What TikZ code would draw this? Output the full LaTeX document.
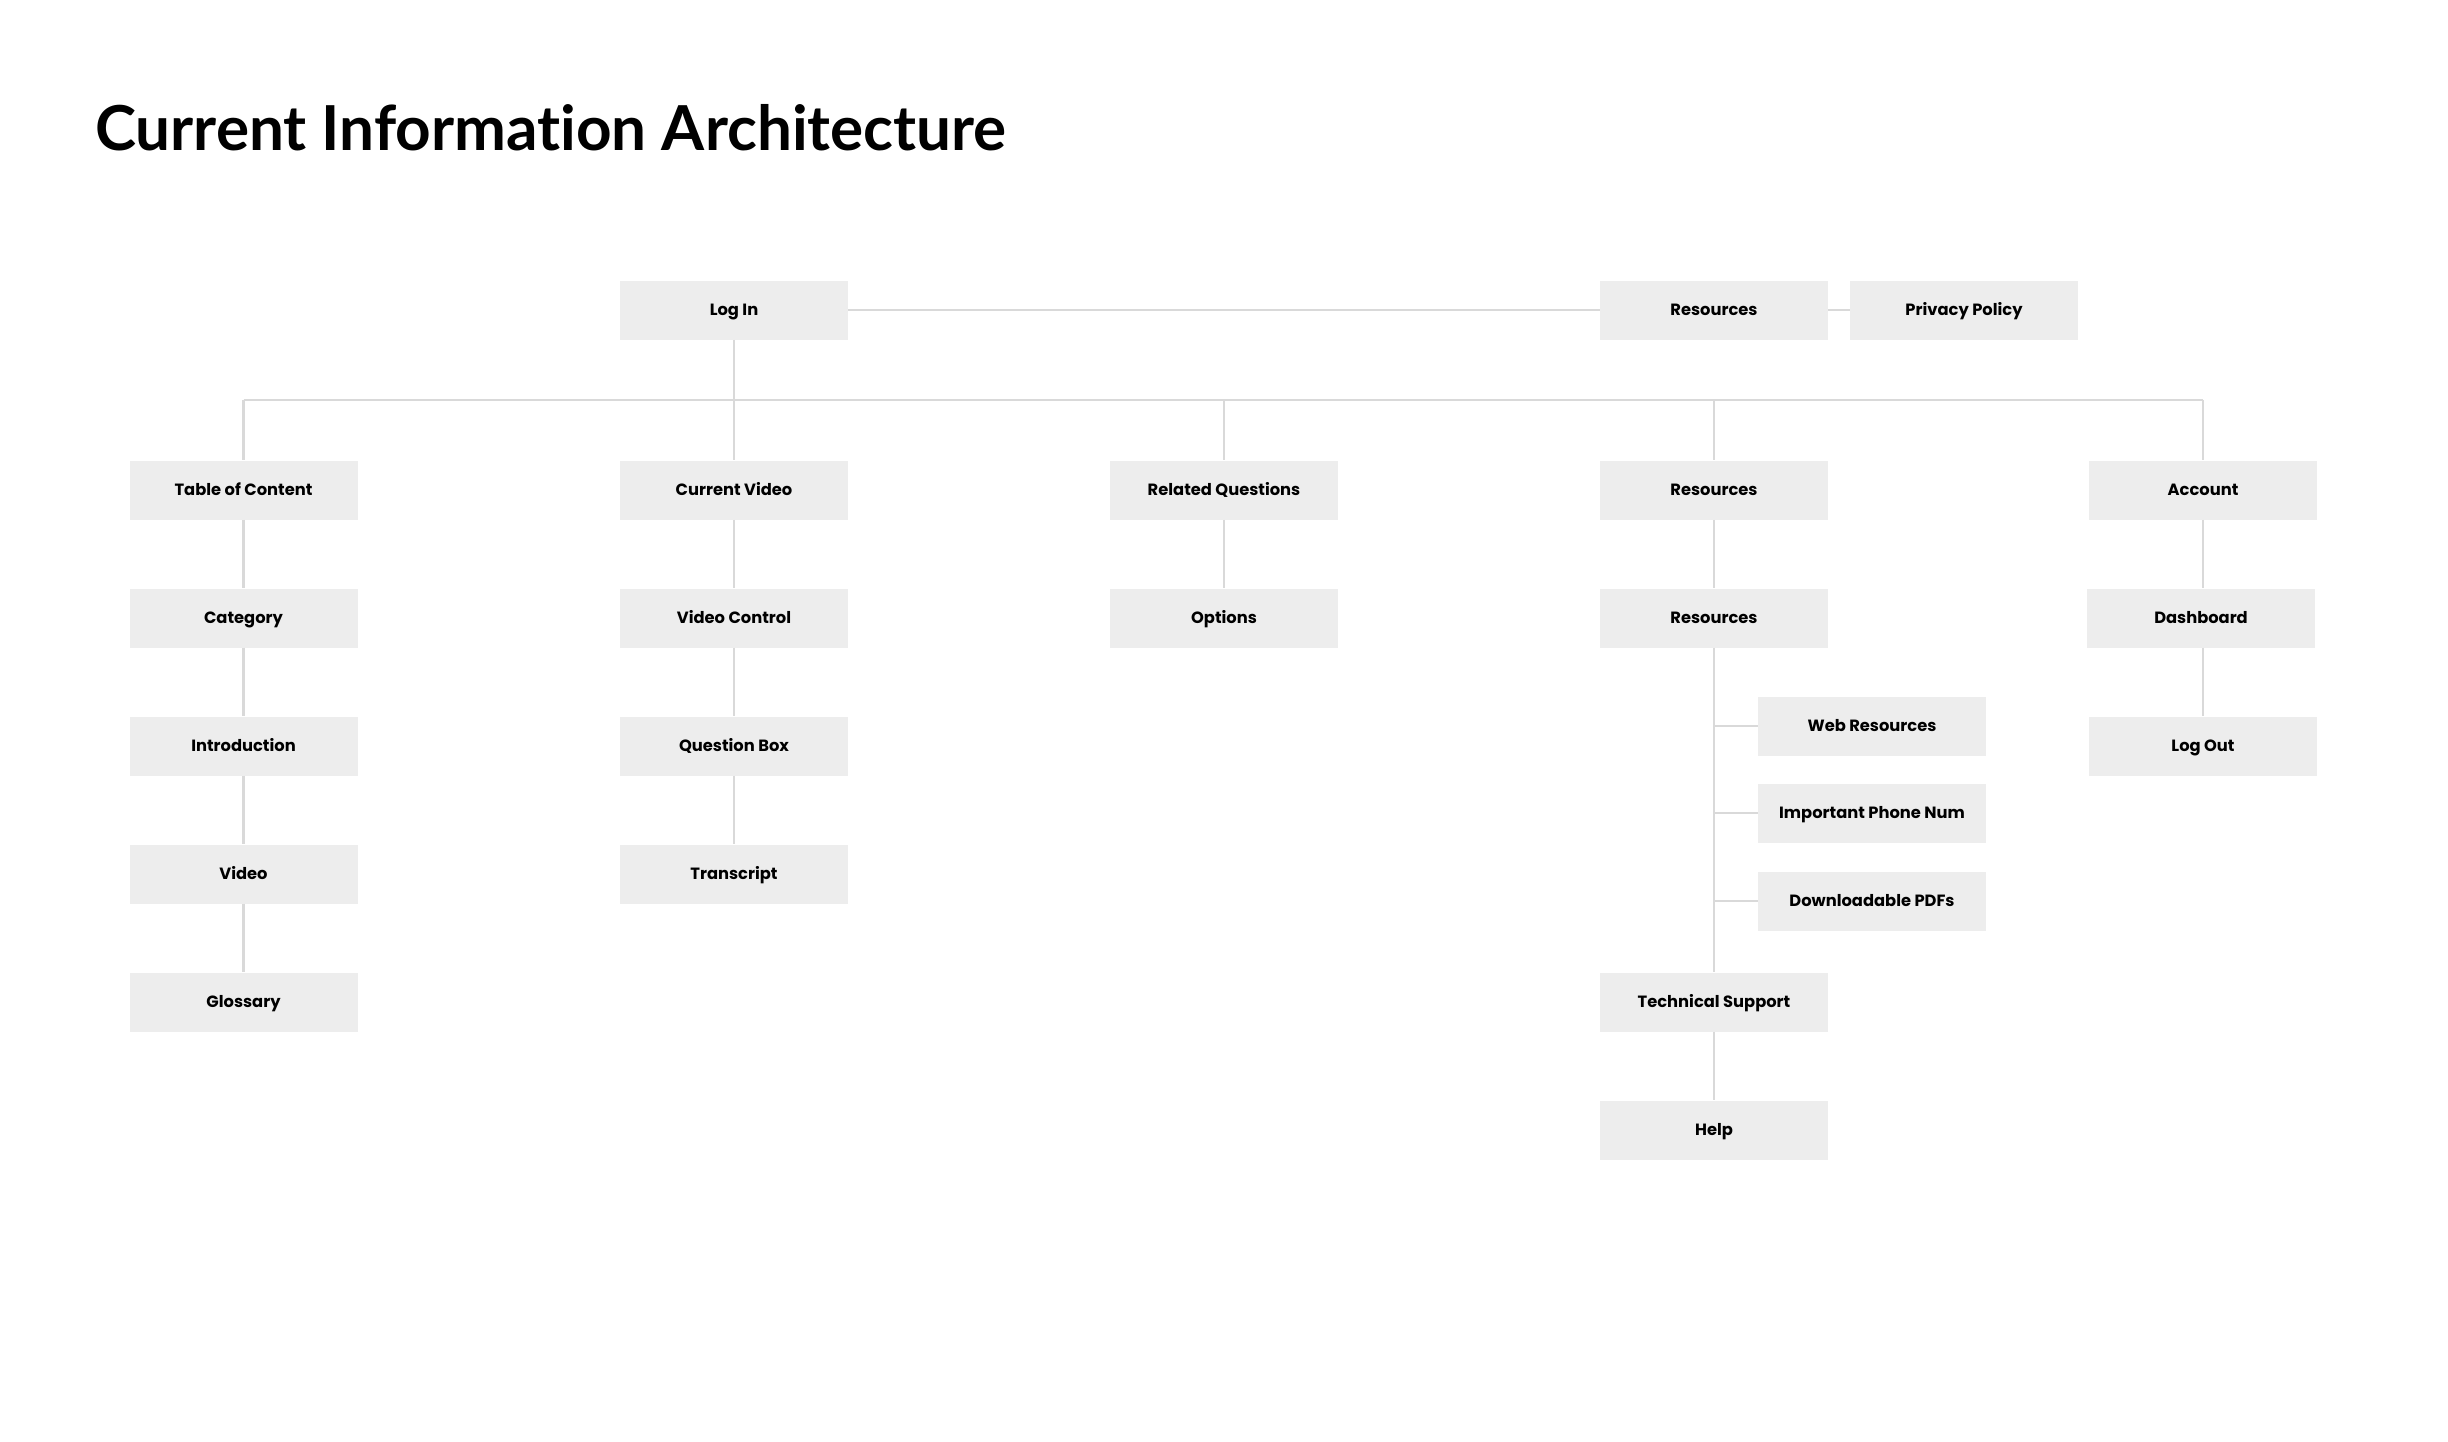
\documentclass[tikz,border=0pt]{standalone}
\usepackage{fontspec}
\setmainfont{Poppins}
\newfontfamily\titlefont[Ligatures=NoCommon]{Lato}
\begin{document}
\begin{tikzpicture}[x=1pt,y=-1pt,
  box/.style={fill=boxgray,minimum width=228pt,minimum height=59pt,inner sep=0pt,text height=13pt,text depth=1.5pt,font=\fontsize{16.3}{18}\selectfont\bfseries,text=black},
  conn/.style={draw=linegray,line width=2.5pt}]
\definecolor{boxgray}{HTML}{EDEDED}
\definecolor{linegray}{HTML}{D9D9D9}
\fill[white] (0,0) rectangle (2448,1442);
\useasboundingbox (0,0) rectangle (2448,1442);
\node[anchor=base west,font=\titlefont\fontsize{62}{70}\selectfont\bfseries,inner sep=0pt] (title) at (95,151) {Current Information Architecture};
% top row
\node[box] (login) at (734,310) {Log In};
\node[box] (res0) at (1714,310) {Resources};
\node[box] (privacy) at (1964,310) {Privacy Policy};
% row 1
\node[box] (toc) at (243.5,490) {Table of Content};
\node[box] (cvideo) at (734,490) {Current Video};
\node[box] (relq) at (1224,490) {Related Questions};
\node[box] (res1) at (1714,490) {Resources};
\node[box] (account) at (2203,490) {Account};
% column 1
\node[box] (category) at (243.5,618) {Category};
\node[box] (intro) at (243.5,746) {Introduction};
\node[box] (video) at (243.5,874) {Video};
\node[box] (glossary) at (243.5,1002) {Glossary};
% column 2
\node[box] (vcontrol) at (734,618) {Video Control};
\node[box] (qbox) at (734,746) {Question Box};
\node[box] (transcript) at (734,874) {Transcript};
% column 3
\node[box] (options) at (1224,618) {Options};
% column 4
\node[box] (res2) at (1714,618) {Resources};
\node[box] (webres) at (1872,726) {Web Resources};
\node[box] (phone) at (1872,813) {Important Phone Num};
\node[box] (pdfs) at (1872,901) {Downloadable PDFs};
\node[box] (techsup) at (1714,1002) {Technical Support};
\node[box] (help) at (1714,1130) {Help};
% column 5
\node[box] (dashboard) at (2201,618) {Dashboard};
\node[box] (logout) at (2203,746) {Log Out};
% bus coordinates
\coordinate (busL) at (243.5,400);
\coordinate (busR) at (2203,400);
\draw[conn] (login.east) -- (res0.west);
\draw[conn] (res0.east) -- (privacy.west);
\draw[conn] (login.south) -- (login.south |- busL);
\draw[conn] (busL) -- (busR);
\draw[conn] (busL) -- (toc.north);
\draw[conn] (cvideo.north |- busL) -- (cvideo.north);
\draw[conn] (relq.north |- busL) -- (relq.north);
\draw[conn] (res1.north |- busL) -- (res1.north);
\draw[conn] (busR) -- (account.north);
\draw[conn] (toc) -- (category);
\draw[conn] (category) -- (intro);
\draw[conn] (intro) -- (video);
\draw[conn] (video) -- (glossary);
\draw[conn] (cvideo) -- (vcontrol);
\draw[conn] (vcontrol) -- (qbox);
\draw[conn] (qbox) -- (transcript);
\draw[conn] (relq) -- (options);
\draw[conn] (res1) -- (res2);
\draw[conn] (res2) -- (techsup);
\draw[conn] (techsup) -- (help);
\draw[conn] (res2.south |- webres.west) -- (webres.west);
\draw[conn] (res2.south |- phone.west) -- (phone.west);
\draw[conn] (res2.south |- pdfs.west) -- (pdfs.west);
\draw[conn] (account.south) -- (account.south |- dashboard.north);
\draw[conn] (account.south |- dashboard.south) -- (account.south |- logout.north);
\end{tikzpicture}
\end{document}
